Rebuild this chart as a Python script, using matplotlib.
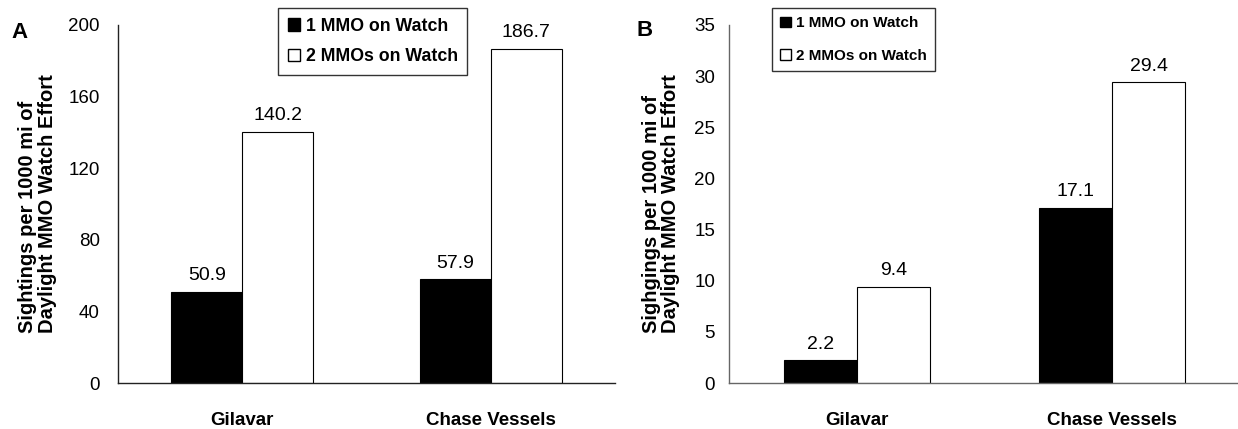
import numpy as np
import matplotlib
matplotlib.use('Agg')
import matplotlib.pyplot as plt
from matplotlib.patches import Patch

# sightings per 1000 mi of daylight MMO watch effort
categories = ['Gilavar', 'Chase Vessels']
series_names = ['1 MMO on Watch', '2 MMOs on Watch']
panel_a_one = [50.9, 57.9]
panel_a_two = [140.2, 186.7]
panel_b_one = [2.2, 17.1]
panel_b_two = [9.4, 29.4]
panel_a_ticks = [0, 40, 80, 120, 160, 200]
panel_b_ticks = [0, 5, 10, 15, 20, 25, 30, 35]

plt.rcParams['font.family'] = ['Liberation Sans', 'DejaVu Sans']

W, H = 1238, 429
fig = plt.figure(figsize=(W / 100, H / 100), dpi=100)


def draw_panel(rect, one, two, ticks, ymax, ylabel, ylabel_x, legend_pos,
               axis_color, legend_size, legend_spacing, tick_pad):
    ax = fig.add_axes(rect)
    x = np.arange(len(categories)) + 0.5
    w = 1 / 3.5
    ax.bar(x - w / 2, one, w, color='black', edgecolor='black', linewidth=0.8,
           label=series_names[0])
    ax.bar(x + w / 2, two, w, color='white', edgecolor='black', linewidth=0.8,
           label=series_names[1])
    for xi, v in zip(x - w / 2, one):
        ax.annotate(f'{v:.1f}', (xi, v), xytext=(0, 5.5), textcoords='offset points',
                    ha='center', va='bottom', fontsize=14)
    for xi, v in zip(x + w / 2, two):
        ax.annotate(f'{v:.1f}', (xi, v), xytext=(0, 5.5), textcoords='offset points',
                    ha='center', va='bottom', fontsize=14)

    ax.set_xlim(0, 2)
    ax.set_ylim(0, ymax)
    ax.set_yticks(ticks)
    ax.set_xticks(x)
    ax.set_xticklabels(categories, fontsize=13.5, fontweight='bold')
    ax.tick_params(axis='y', length=0, pad=tick_pad, labelsize=13.5)
    ax.tick_params(axis='x', length=0, pad=21)
    for s in ['top', 'right']:
        ax.spines[s].set_visible(False)
    for s in ['left', 'bottom']:
        ax.spines[s].set_color(axis_color)
        ax.spines[s].set_linewidth(1.0)

    ax.text(ylabel_x, 0.5, ylabel, transform=ax.transAxes, rotation=90,
            ha='center', va='center', multialignment='left',
            fontsize=14.5, fontweight='bold', linespacing=1.05)

    leg = ax.legend(handles=[Patch(facecolor='black', edgecolor='black'),
                             Patch(facecolor='white', edgecolor='black')],
                    labels=series_names, loc='upper left',
                    bbox_to_anchor=legend_pos, bbox_transform=fig.transFigure,
                    frameon=True, fancybox=False, handlelength=0.7,
                    handleheight=0.7, handletextpad=0.3, borderpad=0.55,
                    labelspacing=legend_spacing, borderaxespad=0,
                    prop={'weight': 'bold', 'size': legend_size})
    leg.get_frame().set_edgecolor('black')
    leg.get_frame().set_linewidth(1.0)
    return ax


ax_a = draw_panel([118 / W, 46 / H, 497 / W, 358 / H], panel_a_one, panel_a_two,
                  panel_a_ticks, 200,
                  'Sightings per 1000 mi of\nDaylight MMO Watch Effort', -0.162,
                  (278 / W, 1 - 8 / H), '#222222', 12.8, 0.75, 13)
ax_b = draw_panel([729 / W, 46 / H, 511 / W, 358 / H], panel_b_one, panel_b_two,
                  panel_b_ticks, 35,
                  'Sighgings per 1000 mi of\nDaylight MMO Watch Effort', -0.133,
                  (772 / W, 1 - 8 / H), '#666666', 11, 1.2, 10)

fig.text(20 / W, 1 - 32 / H, 'A', ha='center', va='center', fontsize=16,
         fontweight='bold')
fig.text(645 / W, 1 - 31 / H, 'B', ha='center', va='center', fontsize=16,
         fontweight='bold')

fig.savefig('out.png', dpi=100)
